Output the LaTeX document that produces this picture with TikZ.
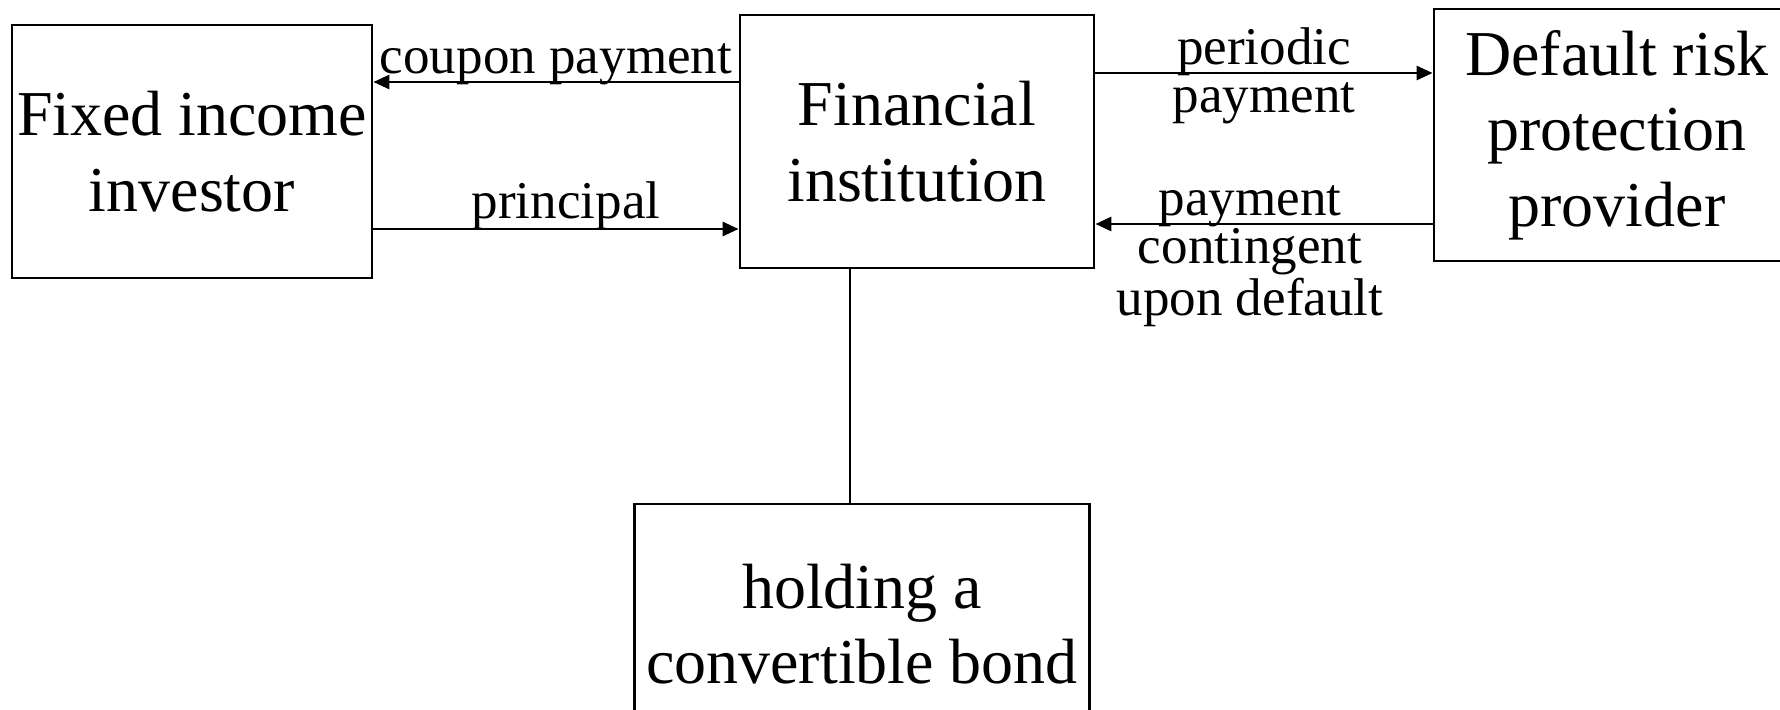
\documentclass[tikz,border=0pt]{standalone}
\usepackage{fontspec}
\setmainfont{Liberation Serif}
\usepackage{tikz}
\usetikzlibrary{arrows.meta}

\begin{document}
\begin{tikzpicture}[
  ent/.style={draw, line width=0.8pt, align=center, inner sep=0pt, font=\fontsize{18.2}{21.5}\selectfont},
  lbl/.style={align=center, inner sep=0pt, font=\fontsize{15.1}{13.7}\selectfont},
  arr/.style={-{Triangle[length=1.6mm, width=1.4mm]}, line width=0.8pt},
]
  \clip (0,0) rectangle (17.8,7.09);
  \node[ent, minimum width=3.60cm, minimum height=2.53cm] (inv)  at (1.92,5.575) {Fixed income\\investor};
  \node[ent, minimum width=3.54cm, minimum height=2.53cm] (fin)  at (9.17,5.675) {Financial\\institution};
  \node[ent, minimum width=3.66cm, minimum height=2.52cm] (prot) at (16.17,5.74) {Default risk\\protection\\provider};
  \node[ent, minimum width=4.55cm, minimum height=2.40cm] (bond) at (8.62,0.85) {holding a\\convertible bond};
  \coordinate (vl) at (8.50,0);
  \draw[arr] (fin.west |- 0,6.27) -- node[lbl, yshift=0.18cm] {coupon payment} (inv.east |- 0,6.27);
  \draw[arr] (inv.east |- 0,4.80) -- node[lbl, yshift=0.23cm, xshift=0.1cm] {principal} (fin.west |- 0,4.80);
  \draw[arr] (fin.east |- 0,6.36) -- node[lbl, yshift=-0.03cm] {periodic\\payment} (prot.west |- 0,6.36);
  \draw[arr] (prot.west |- 0,4.85) -- node[lbl, yshift=-0.32cm, xshift=-0.14cm] {payment\\contingent\\upon default} (fin.east |- 0,4.85);
  \draw[line width=0.8pt] (fin.south -| vl) -- (bond.north -| vl);
\end{tikzpicture}
\end{document}
